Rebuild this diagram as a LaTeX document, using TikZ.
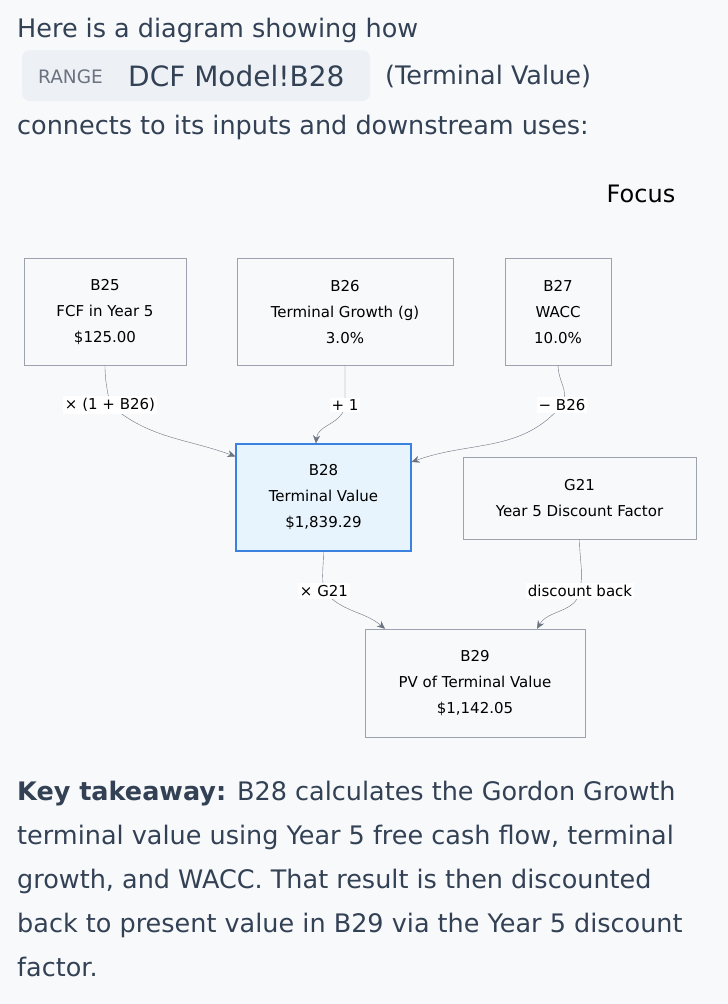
\documentclass[tikz,border=0pt]{standalone}
\usepackage{fontspec}
\setmainfont{DejaVu Sans}
\usetikzlibrary{positioning,arrows.meta}
\definecolor{ink}{HTML}{334155}
\definecolor{edgegray}{HTML}{6B7280}
\definecolor{boxline}{HTML}{9CA3AF}
\definecolor{bg}{HTML}{F8F9FB}
\definecolor{pill}{HTML}{EDF0F4}
\definecolor{focusfill}{HTML}{E8F4FD}
\definecolor{focusline}{HTML}{3B82E0}
\tikzset{
  cell/.style={draw=boxline, fill=bg, align=center, text=black, font=\fontsize{15}{26}\selectfont, inner sep=0pt},
  focus/.style={cell, draw=focusline, fill=focusfill, line width=1.2pt},
  elabel/.style={fill=white, text=black, font=\fontsize{15}{17}\selectfont, inner sep=2pt},
  edge/.style={draw=edgegray, -{Stealth[length=8pt,width=7pt]}},
  body/.style={anchor=base west, text=ink, font=\fontsize{25.5}{29}\selectfont, inner sep=0pt}
}
\begin{document}
\begin{tikzpicture}[x=1pt,y=-1pt]
    \fill[bg] (0,0) rectangle (728,1004);
    \useasboundingbox (0,0) rectangle (728,1004);

    % Intro text
    \node[body] (intro1) at (17,37) {Here is a diagram showing how};
    \fill[pill, rounded corners=8pt] (22,50) rectangle (370,101);
    \node[body, text=edgegray, font=\fontsize{18.5}{20}\selectfont] (rng) at (38,83) {RANGE};
    \node[body, font=\fontsize{28}{32}\selectfont] (ref) at (128,86) {DCF Model!B28};
    \node[body] (tv) at (385,84) {(Terminal Value)};
    \node[body] (intro2) at (17,134) {connects to its inputs and downstream uses:};
    \node[body, anchor=center, text=black, font=\fontsize{24}{28}\selectfont] (focustxt) at (641,194) {Focus};

    % Cells
    \node[cell, minimum width=162, minimum height=107] (b25) at (105,312) {B25\\FCF in Year 5\\\$125.00};
    \node[cell, minimum width=216, minimum height=107] (b26) at (345,312) {B26\\Terminal Growth (g)\\3.0\%};
    \node[cell, minimum width=106, minimum height=107] (b27) at (558,312) {B27\\WACC\\10.0\%};
    \node[focus, minimum width=175, minimum height=107] (b28) at (323.5,497.5) {B28\\Terminal Value\\\$1,839.29};
    \node[cell, minimum width=233, minimum height=82] (g21) at (579.5,498) {G21\\Year 5 Discount Factor};
    \node[cell, minimum width=220, minimum height=108] (b29) at (475,683) {B29\\PV of Terminal Value\\\$1,142.05};

    % Edge labels
    \coordinate (l1) at (110,405);
    \coordinate (l2) at (345,405);
    \coordinate (l3) at (562,405);
    \coordinate (l4) at (324,591);
    \coordinate (l5) at (580,591);

    % Connectors
    \draw[edge] (b25.south) to[out=-90,in=100] (l1) to[out=-40,in=160] (b28.155);
    \draw[edge] (b26.south) -- (l2) to[out=-95,in=85] (b28.98);
    \draw[edge] (b27.south) to[out=-90,in=60] (l3) to[out=-130,in=20] (b28.north east |- 0,462);
    \draw[edge] (b28.south) to[out=-90,in=100] (l4) to[out=-50,in=140] (b29.north west -| 385,0);
    \draw[edge] (g21.south) to[out=-90,in=80] (l5) to[out=-100,in=60] (b29.north east -| 537,0);

    \node[elabel] (t1) at (l1) {× (1 + B26)};
    \node[elabel] (t2) at (l2) {+ 1};
    \node[elabel] (t3) at (l3) {− B26};
    \node[elabel] (t4) at (l4) {× G21};
    \node[elabel] (t5) at (l5) {discount back};

    % Takeaway
    \node[body] (k1) at (17,800) {\textbf{Key takeaway:} B28 calculates the Gordon Growth};
    \node[body] (k2) at (17,844) {terminal value using Year 5 free cash flow, terminal};
    \node[body] (k3) at (17,888) {growth, and WACC. That result is then discounted};
    \node[body] (k4) at (17,932) {back to present value in B29 via the Year 5 discount};
    \node[body] (k5) at (17,976) {factor.};
\end{tikzpicture}
\end{document}
